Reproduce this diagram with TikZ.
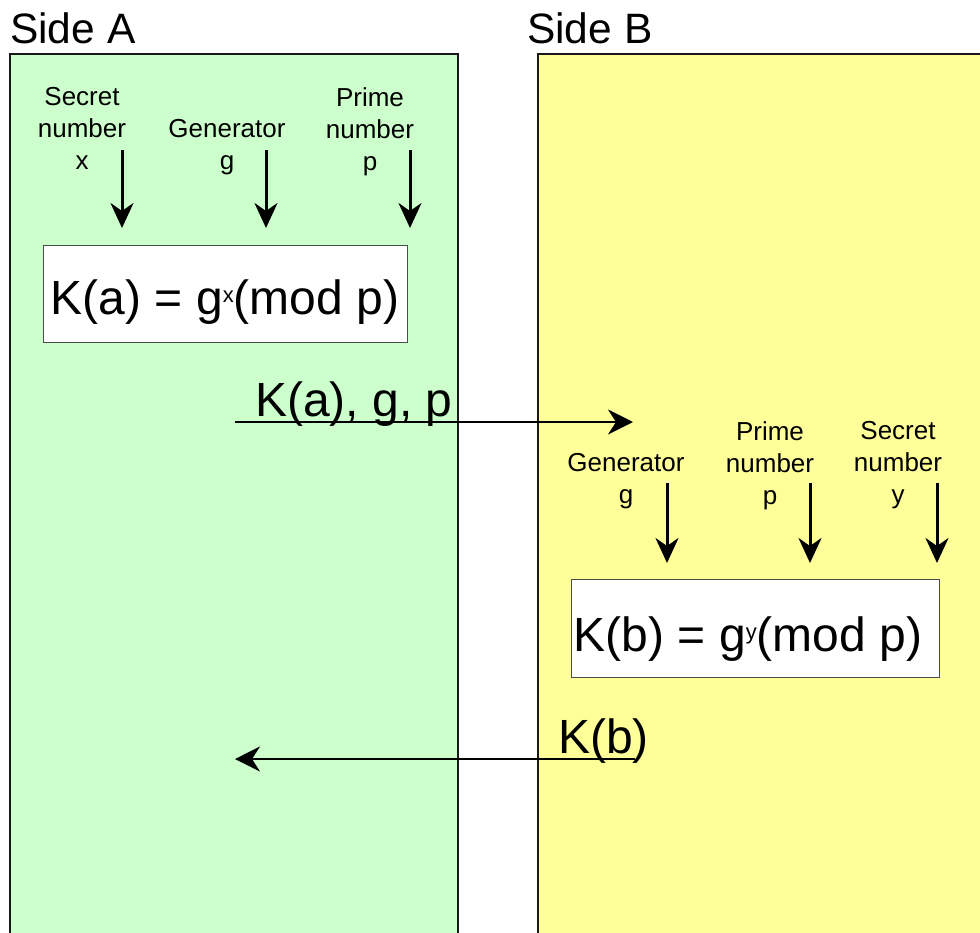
\documentclass[tikz,border=0pt]{standalone}
\usepackage{fontspec}
\setmainfont{Liberation Sans}
\usetikzlibrary{arrows.meta}
\definecolor{sideA}{HTML}{CCFFCC}
\definecolor{sideB}{HTML}{FFFF99}
% small raised exponent
\newcommand{\expo}[1]{\raisebox{12pt}{\fontsize{22}{22}\selectfont #1}}
\begin{document}
\begin{tikzpicture}[x=1pt,y=-1pt,
  panel/.style={draw=black!90, line width=2pt},
  title/.style={font=\fontsize{42.5}{50}\selectfont, anchor=base west, inner sep=0pt},
  small/.style={font=\fontsize{26}{32}\selectfont, align=center, anchor=north, inner sep=0pt},
  formula/.style={draw=black!70, line width=1pt, fill=white, font=\fontsize{48}{56}\selectfont,
    inner sep=0pt, text height=58pt, text depth=16pt},
  big/.style={font=\fontsize{48}{56}\selectfont, anchor=base west, inner sep=0pt},
  feed/.style={line width=3pt, -{Stealth[length=25pt,width=23pt,inset=8pt]}},
  msg/.style={line width=2pt, -{Stealth[length=25pt,width=25pt,inset=8pt]}},
]
\useasboundingbox (0,0) rectangle (980,932);
\clip (0,0) rectangle (980,932);

% the two parties
\draw[panel, fill=sideA] (10,54) rectangle (458,960);
\draw[panel, fill=sideB] (538,54) rectangle (1000,960);
\node[title] (ta) at (10,43) {Side A};
\node[title] (tb) at (527,43) {Side B};

% side A inputs
\node[small] (ax) at (82,87) {Secret\\number\\x};
\node[small] (ag) at (227,119) {Generator\\g};
\node[small] (ap) at (370,87) {Prime\\number\\p};
\coordinate (ax1) at (122,150); \coordinate (ax2) at (122,228);
\coordinate (ag1) at (266,150); \coordinate (ag2) at (266,228);
\coordinate (ap1) at (410,150); \coordinate (ap2) at (410,228);
\draw[feed] (ax1) -- (ax2);
\draw[feed] (ag1) -- (ag2);
\draw[feed] (ap1) -- (ap2);
\node[formula, minimum width=364pt, minimum height=97pt] (fa) at (225,293.5) {K(a) = g\expo{x}(mod p)};

% message A -> B
\node[big] (ma) at (255,416) {K(a), g, p};
\coordinate (ma1) at (235,422); \coordinate (ma2) at (633,422);
\draw[msg] (ma1) -- (ma2);

% side B inputs
\node[small] (bg) at (626,453) {Generator\\g};
\node[small] (bp) at (770,421) {Prime\\number\\p};
\node[small] (by) at (898,421) {Secret\\number\\y};
\coordinate (bg1) at (667,483); \coordinate (bg2) at (667,563);
\coordinate (bp1) at (810,483); \coordinate (bp2) at (810,563);
\coordinate (by1) at (937,483); \coordinate (by2) at (937,563);
\draw[feed] (bg1) -- (bg2);
\draw[feed] (bp1) -- (bp2);
\draw[feed] (by1) -- (by2);
\node[formula, minimum width=368pt, minimum height=98pt, text height=60pt, text depth=14pt] (fb) at (755,628) {K(b) = g\expo{y}(mod p)\kern14pt};

% message B -> A
\node[big] (mb) at (558,753) {K(b)};
\coordinate (mb1) at (635,759); \coordinate (mb2) at (235,759);
\draw[msg] (mb1) -- (mb2);
\end{tikzpicture}
\end{document}
